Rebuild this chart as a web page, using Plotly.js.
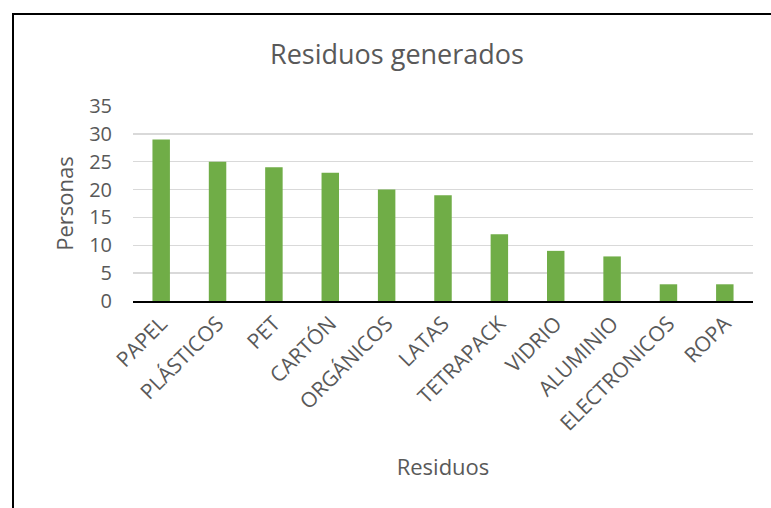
<!DOCTYPE html>
<html>
<head>
<meta charset="utf-8">
<script src="https://cdn.plot.ly/plotly-3.0.1.min.js"></script>
<style>
  html, body { margin: 0; padding: 0; background: #fff; }
  #wrap { position: relative; width: 771px; height: 508px; overflow: hidden; }
  #chart { position: absolute; left: 0; top: 0; width: 771px; height: 508px; }
  #frame { position: absolute; left: 12px; top: 13px; width: 800px; height: 520px;
           border-left: 2px solid #000; border-top: 2px solid #000; pointer-events: none; }
</style>
</head>
<body>
<div id="wrap">
  <div id="chart"></div>
  <div id="frame"></div>
</div>
<script>
const categories = ["PAPEL", "PLÁSTICOS", "PET", "CARTÓN", "ORGÁNICOS", "LATAS",
                    "TETRAPACK", "VIDRIO", "ALUMINIO", "ELECTRONICOS", "ROPA"];
const personas = [29, 25, 24, 23, 20, 19, 12, 9, 8, 3, 3];
const yTicks = [0, 5, 10, 15, 20, 25, 30, 35];

const FONT = "'Open Sans', sans-serif";
const GREY = "#595959";

const data = [{
  type: "bar",
  x: categories,
  y: personas,
  marker: { color: "#70AD47" },
  hoverinfo: "x+y"
}];

const layout = {
  width: 771,
  height: 508,
  paper_bgcolor: "#ffffff",
  plot_bgcolor: "#ffffff",
  margin: { l: 133, r: 18, t: 106, b: 207 },
  bargap: 0.69,
  showlegend: false,
  font: { family: FONT, color: GREY },
  title: {
    text: "Residuos generados",
    font: { family: FONT, size: 27, color: GREY },
    xref: "container", x: 397 / 771, xanchor: "center",
    yref: "container", y: 1 - 55 / 508, yanchor: "middle"
  },
  xaxis: {
    type: "category",
    tickangle: -45,
    tickfont: { family: FONT, size: 21, color: GREY },
    showline: true, linecolor: "#000000", linewidth: 2,
    showgrid: false, ticks: "",
    automargin: false,
    title: { text: "Residuos", font: { family: FONT, size: 22, color: GREY }, standoff: 24 }
  },
  yaxis: {
    range: [0, 35],
    tickvals: yTicks,
    ticktext: yTicks.map(String),
    tickfont: { family: FONT, size: 20, color: GREY },
    showgrid: true, gridcolor: "#d9d9d9", gridwidth: 1.5,
    zeroline: false, showline: false, ticks: "",
    ticklabelstandoff: 20,
    automargin: false,
    title: { text: "Personas", font: { family: FONT, size: 22, color: GREY }, standoff: 9 }
  }
};

Plotly.newPlot("chart", data, layout, { displayModeBar: false, staticPlot: true });
</script>
</body>
</html>
